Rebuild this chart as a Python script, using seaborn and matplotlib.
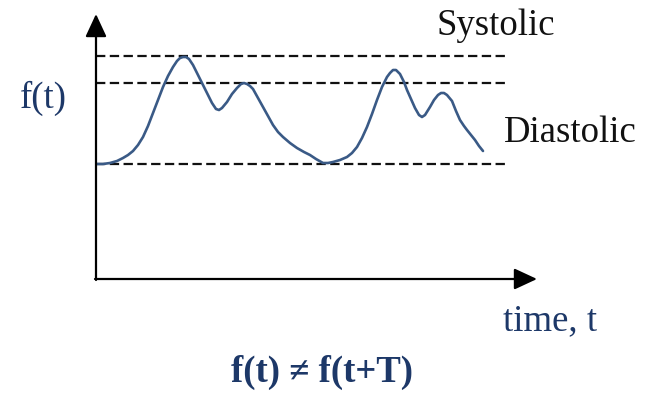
import matplotlib
matplotlib.use("Agg")
import matplotlib.pyplot as plt
import seaborn as sns
import pandas as pd

# Pressure waveform f(t): two beats, each with a systolic peak and a secondary wave
time_t = [0, 7, 14, 21, 27, 32, 37, 42, 47, 52, 57, 62, 67, 72, 77, 81, 84, 87, 90,
          93, 97, 101, 106, 111, 116, 120, 123, 126, 131, 136, 141, 145, 148, 151,
          154, 157, 162, 167, 172, 177, 182, 187, 194, 201, 208, 214, 220, 227, 232,
          237, 244, 251, 256, 261, 266, 271, 276, 281, 286, 291, 294, 297, 300, 304,
          308, 311, 315, 319, 323, 326, 329, 334, 338, 342, 345, 348, 351, 356, 360,
          364, 368, 371, 375, 379, 383, 387]
pressure = [115, 115, 116, 118, 121, 124, 128, 134, 142, 153, 166, 179, 192, 203,
            212, 218, 221, 222, 222, 220, 214, 206, 196, 186, 176, 170, 169, 171, 177,
            185, 191, 195, 196, 195, 193, 190, 181, 172, 163, 154, 147, 142, 136, 131,
            127, 124, 120, 116, 116, 117, 119, 122, 126, 132, 141, 152, 165, 179, 192,
            202, 206, 209, 209, 205, 197, 189, 180, 171, 164, 162, 164, 172, 179, 184,
            186, 186, 184, 178, 168, 159, 153, 149, 144, 139, 133, 128]

# Reference levels (systolic max, systolic, diastolic) and their extent
levels = [223, 196, 115]
level_span = [0, 412]

# Axis extents
t_max = 441
f_max = 265

labels = {
    "systolic": "Systolic",
    "diastolic": "Diastolic",
    "ylabel": "f(t)",
    "xlabel": "time, t",
    "formula": "f(t) \u2260 f(t+T)",
}

sns.set_theme(style="white")
serif = ["Liberation Serif", "DejaVu Serif"]
plt.rcParams["font.family"] = serif

navy = "#1d3868"
curve_color = "#3a5a86"

W, H = 649, 395
fig = plt.figure(figsize=(W / 100, H / 100), dpi=100)
fig.patch.set_facecolor("white")
ax = fig.add_axes([96 / W, 116 / H, 444 / W, 265 / H])
ax.set_xlim(0, 444)
ax.set_ylim(0, 265)
ax.axis("off")

# dashed reference levels
for lv in levels:
    ax.plot(level_span, [lv, lv], color="#111111", lw=1.6,
            ls=(0, (4.2, 2.0)), solid_capstyle="butt")

# waveform
df = pd.DataFrame({"t": time_t, "f": pressure})
sns.lineplot(data=df, x="t", y="f", ax=ax, color=curve_color, lw=1.9,
             sort=False, estimator=None)
for ln in ax.get_lines():
    ln.set_solid_joinstyle("round")

# axes with arrowheads
arrow = dict(arrowstyle="-|>,head_length=1.4,head_width=0.65", lw=1.6,
             color="black", shrinkA=0, shrinkB=0, mutation_scale=10)
ax.annotate("", xy=(0, f_max), xytext=(0, -1), arrowprops=arrow,
            annotation_clip=False)
ax.annotate("", xy=(t_max, 0), xytext=(-1, 0), arrowprops=arrow,
            annotation_clip=False)

fs = 26.5
ax.text(400, 244, labels["systolic"], ha="center", va="baseline",
        fontsize=fs, color="#111111", clip_on=False)
ax.text(474, 137, labels["diastolic"], ha="center", va="baseline",
        fontsize=fs, color="#111111", clip_on=False)
ax.text(-53, 171, labels["ylabel"], ha="center", va="baseline",
        fontsize=fs, color=navy, clip_on=False)
ax.text(454, -51, labels["xlabel"], ha="center", va="baseline",
        fontsize=fs, color=navy, clip_on=False)
ax.text(226, -103, labels["formula"], ha="center", va="baseline",
        fontsize=fs, fontweight="bold", color=navy, clip_on=False)

fig.savefig("out.png", dpi=100, facecolor="white")
